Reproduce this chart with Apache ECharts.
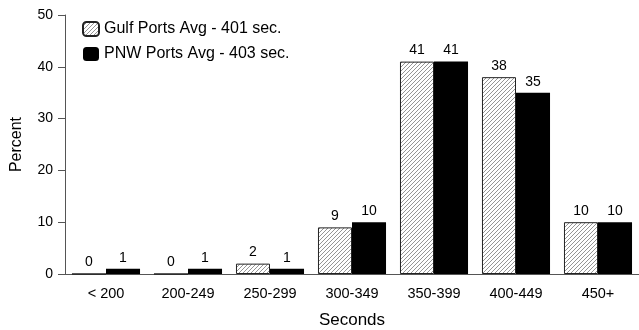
<!DOCTYPE html>
<html><head><meta charset="utf-8">
<script src="https://cdn.jsdelivr.net/npm/echarts@6/dist/echarts.min.js"></script>
<style>html,body{margin:0;padding:0;background:#fff}#c{width:639px;height:330px}</style>
</head><body><div id="c"></div>
<script>
const categories = ['< 200','200-249','250-299','300-349','350-399','400-449','450+'];
const gulfValues = [0,0,2,9,41,38,10];
const pnwValues = [1,1,1,10,41,35,10];
const gulfName = 'Gulf Ports Avg - 401 sec.';
const pnwName = 'PNW Ports Avg - 403 sec.';
const yTicks = {min:0, max:50, interval:10};

const FONT = '"Liberation Sans", Arial, sans-serif';
function hatch(){
  const c = document.createElement('canvas');
  c.width = 4; c.height = 4;
  const g = c.getContext('2d');
  g.fillStyle = '#fff'; g.fillRect(0,0,4,4);
  g.strokeStyle = '#7a7a7a'; g.lineWidth = 0.8;
  g.beginPath();
  g.moveTo(-1,5); g.lineTo(5,-1);
  g.moveTo(-1,1); g.lineTo(1,-1);
  g.moveTo(3,5); g.lineTo(5,3);
  g.stroke();
  return c;
}
const chart = echarts.init(document.getElementById('c'), null, {renderer:'canvas'});
const axisLineStyle = {color:'#555', width:1};
chart.setOption({
  animation:false,
  textStyle:{fontFamily:FONT},
  grid:{left:65, right:0, top:15, bottom:56, containLabel:false, outerBoundsMode:'none'},
  legend:{
    left:77, top:16, orient:'vertical', itemWidth:16, itemHeight:14, itemGap:9,
    textStyle:{fontFamily:FONT, fontSize:16, color:'#000'},
    data:[gulfName, pnwName]
  },
  xAxis:{
    type:'category', data:categories,
    name:'Seconds', nameLocation:'middle', nameGap:38,
    nameTextStyle:{fontFamily:FONT, fontSize:17, color:'#000'},
    axisLine:{lineStyle:axisLineStyle},
    axisTick:{alignWithLabel:true, length:8, lineStyle:{color:'#333'}},
    axisLabel:{fontFamily:FONT, fontSize:14.5, color:'#000', margin:12}
  },
  yAxis:{
    type:'value', min:yTicks.min, max:yTicks.max, interval:yTicks.interval,
    name:'Percent', nameLocation:'middle', nameGap:40,
    nameTextStyle:{fontFamily:FONT, fontSize:16, color:'#000'},
    axisLine:{show:true, lineStyle:axisLineStyle},
    axisTick:{show:true, length:7, lineStyle:{color:'#555'}},
    splitLine:{show:false},
    axisLabel:{fontFamily:FONT, fontSize:14, color:'#000', margin:12}
  },
  series:[
    {name:gulfName, type:'bar', data:gulfValues, barGap:'0%', barCategoryGap:'17%',
     itemStyle:{color:{image:hatch(), repetition:'repeat'}, borderColor:'#222', borderWidth:1},
     label:{show:true, position:'top', distance:4, fontFamily:FONT, fontSize:14, color:'#000'}},
    {name:pnwName, type:'bar', data:pnwValues, barGap:'0%', barCategoryGap:'17%',
     itemStyle:{color:'#000', borderColor:'#000', borderWidth:0},
     label:{show:true, position:'top', distance:4, fontFamily:FONT, fontSize:14, color:'#000'}}
  ]
});
</script></body></html>
